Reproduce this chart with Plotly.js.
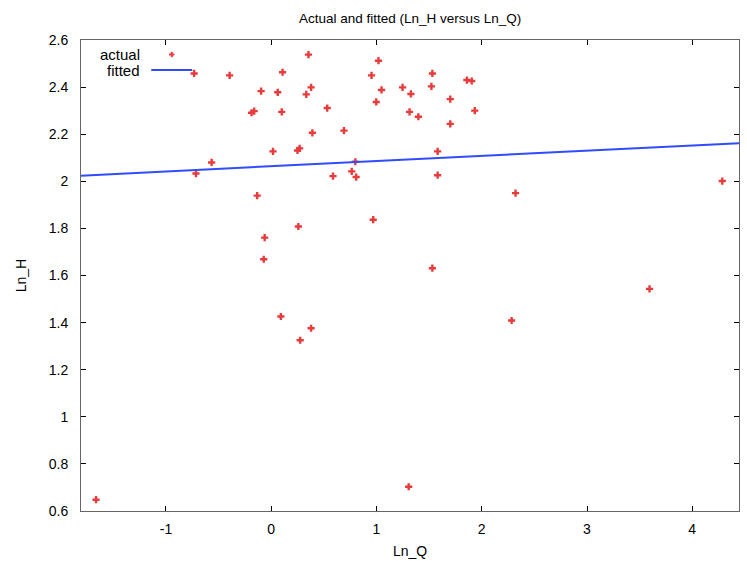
<!DOCTYPE html>
<html>
<head>
<meta charset="utf-8">
<script src="https://cdn.plot.ly/plotly-3.0.1.min.js"></script>
<style>html,body{margin:0;padding:0;background:#fff;}#chart{width:747px;height:561px;}</style>
</head>
<body>
<div id="chart"></div>
<script>
// Actual observations (Ln_Q, Ln_H)
var lnQ = [-0.732, -0.395, -0.715, -0.566, -0.096, -0.187, -0.162, 0.062, 0.108, 0.100,
           0.017, -0.133, -0.062, -0.071, 0.092, 0.275, 0.379, 0.258, 0.250, 0.270,
           0.354, 0.379, 0.333, 0.391, 0.532, 0.587, 0.691, 0.765, 0.799, 0.807,
           0.969, 0.953, 1.019, 0.998, 1.048, 1.248, 1.327, 1.314, 1.398, 1.306,
           1.531, 1.522, 1.581, 1.581, 1.531, 1.701, 1.701, 1.859, 1.905, 1.934,
           2.321, 2.284, 3.594, 4.285, -1.664];
var lnH = [2.458, 2.450, 2.033, 2.080, 2.383, 2.291, 2.298, 2.378, 2.463, 2.295,
           2.127, 1.939, 1.761, 1.669, 1.426, 1.325, 1.376, 1.808, 2.131, 2.140,
           2.538, 2.399, 2.369, 2.206, 2.311, 2.022, 2.215, 2.042, 2.083, 2.018,
           1.837, 2.450, 2.512, 2.337, 2.388, 2.399, 2.371, 2.295, 2.274, 0.703,
           2.458, 2.403, 2.127, 2.026, 1.631, 2.349, 2.244, 2.430, 2.426, 2.300,
           1.950, 1.409, 1.543, 2.001, 0.648];
// Fitted line (end points across the x range)
var fitQ = [-1.807, 4.444];
var fitH = [2.024, 2.162];
// Axis ticks
var xTickVals = [-1, 0, 1, 2, 3, 4];
var xTickText = ["-1", "0", "1", "2", "3", "4"];
var yTickVals = [0.6, 0.8, 1, 1.2, 1.4, 1.6, 1.8, 2, 2.2, 2.4, 2.6];
var yTickText = ["0.6", "0.8", "1", "1.2", "1.4", "1.6", "1.8", "2", "2.2", "2.4", "2.6"];
var seriesNames = ["actual", "fitted"];

var red = "#e83c3c", blue = "#2f4cff";
var fnt = "Liberation Sans, Arial, sans-serif";

var traces = [
  {x: lnQ, y: lnH, type: "scatter", mode: "markers", name: seriesNames[0],
   marker: {symbol: "cross", size: 6, color: red, line: {width: 0}}, showlegend: false},
  {x: fitQ, y: fitH, type: "scatter", mode: "lines", name: seriesNames[1],
   line: {color: blue, width: 2}, showlegend: false}
];

// legend in paper coordinates (gnuplot style: text, then sample)
var L = 80.7, R = 739, T = 39.5, B = 510.7;
function px(x){ return (x - L) / (R - L); }
function py(y){ return (B - y) / (B - T); }

var layout = {
  width: 747, height: 561,
  margin: {l: 81, r: 8, t: 40, b: 50},
  paper_bgcolor: "#fff", plot_bgcolor: "#fff",
  font: {family: fnt, size: 14, color: "#000"},
  title: {text: "Actual and fitted (Ln_H versus Ln_Q)", x: 0.549, xanchor: "center", y: 0.968, yanchor: "middle",
          font: {family: fnt, size: 13.5, color: "#000"}},
  xaxis: {range: [-1.807, 4.444], tickvals: xTickVals, ticktext: xTickText,
          ticks: "inside", ticklen: 5, tickcolor: "#000", tickwidth: 1,
          showline: true, linecolor: "#666", linewidth: 1, mirror: "ticks",
          showgrid: false, zeroline: false, ticklabelstandoff: 5,
          tickfont: {family: fnt, size: 14, color: "#000"},
          title: {text: "Ln_Q", font: {family: fnt, size: 14, color: "#000"}, standoff: 10}},
  yaxis: {range: [0.6, 2.6], tickvals: yTickVals, ticktext: yTickText,
          ticks: "inside", ticklen: 5, tickcolor: "#000", tickwidth: 1,
          showline: true, linecolor: "#666", linewidth: 1, mirror: "ticks",
          showgrid: false, zeroline: false, ticklabelstandoff: 9,
          tickfont: {family: fnt, size: 14, color: "#000"},
          title: {text: "Ln_H", font: {family: fnt, size: 14, color: "#000"}, standoff: 18}},
  annotations: [
    {xref: "paper", yref: "paper", x: px(142), y: py(54), xanchor: "right", yanchor: "middle",
     text: seriesNames[0], showarrow: false, font: {family: fnt, size: 15, color: "#000"}},
    {xref: "paper", yref: "paper", x: px(142), y: py(70.5), xanchor: "right", yanchor: "middle",
     text: seriesNames[1], showarrow: false, font: {family: fnt, size: 15, color: "#000"}}
  ],
  shapes: [
    {type: "line", xref: "paper", yref: "paper", x0: px(151), x1: px(192), y0: py(69.5), y1: py(69.5),
     line: {color: blue, width: 2}},
    {type: "line", xref: "paper", yref: "paper", x0: px(168.8), x1: px(174.2), y0: py(54), y1: py(54),
     line: {color: red, width: 2}},
    {type: "line", xref: "paper", yref: "paper", x0: px(171.5), x1: px(171.5), y0: py(51.3), y1: py(56.7),
     line: {color: red, width: 2}}
  ]
};

Plotly.newPlot("chart", traces, layout, {displayModeBar: false, staticPlot: true});
</script>
</body>
</html>
